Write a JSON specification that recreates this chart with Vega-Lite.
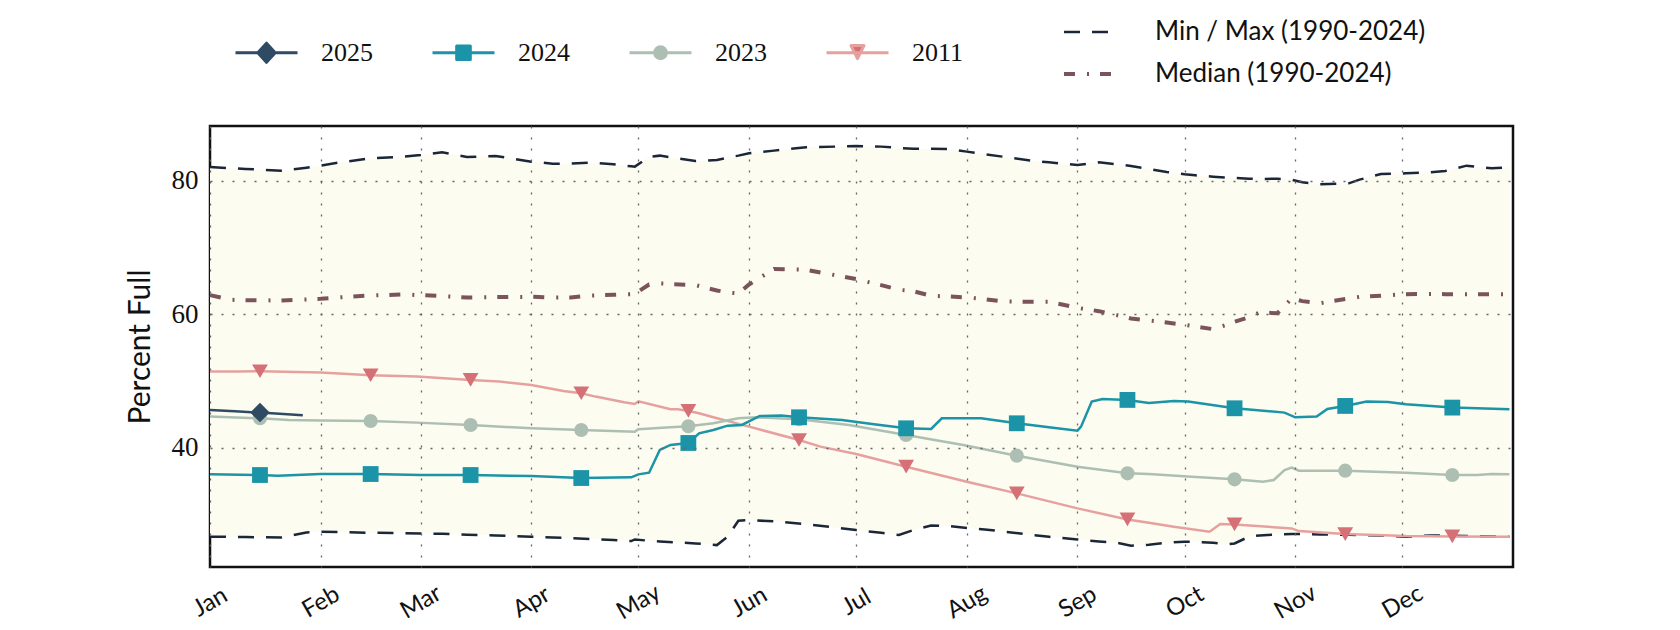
{
  "$schema": "https://vega.github.io/schema/vega-lite/v6.json",
  "width": 1303,
  "height": 441,
  "autosize": {"type": "none"},
  "padding": {"left": 210, "top": 126, "right": 167, "bottom": 63},
  "background": "white",
  "config": {
    "view": {"stroke": "#111111", "strokeWidth": 2.5},
    "font": "Lato"
  },
  "datasets": {
    "env": [
      {"date": "2023/01/01", "max": 82.1, "min": 26.7, "median": 62.9},
      {"date": "2023/01/07", "max": 81.9, "min": 26.68, "median": 62.2},
      {"date": "2023/01/11", "max": 81.8, "min": 26.65, "median": 62.15},
      {"date": "2023/01/21", "max": 81.55, "min": 26.6, "median": 62.1},
      {"date": "2023/01/28", "max": 82.0, "min": 27.35, "median": 62.25},
      {"date": "2023/02/01", "max": 82.3, "min": 27.45, "median": 62.35},
      {"date": "2023/02/06", "max": 82.75, "min": 27.4, "median": 62.55},
      {"date": "2023/02/15", "max": 83.4, "min": 27.3, "median": 62.85},
      {"date": "2023/02/24", "max": 83.65, "min": 27.25, "median": 63.0},
      {"date": "2023/03/01", "max": 83.9, "min": 27.2, "median": 62.9},
      {"date": "2023/03/07", "max": 84.3, "min": 27.15, "median": 62.75},
      {"date": "2023/03/14", "max": 83.6, "min": 27.0, "median": 62.55},
      {"date": "2023/03/22", "max": 83.75, "min": 26.9, "median": 62.6},
      {"date": "2023/04/01", "max": 82.9, "min": 26.7, "median": 62.65},
      {"date": "2023/04/07", "max": 82.6, "min": 26.6, "median": 62.55},
      {"date": "2023/04/12", "max": 82.6, "min": 26.5, "median": 62.55},
      {"date": "2023/04/18", "max": 82.75, "min": 26.35, "median": 62.85},
      {"date": "2023/04/24", "max": 82.5, "min": 26.2, "median": 62.95},
      {"date": "2023/04/29", "max": 82.2, "min": 26.05, "median": 63.05},
      {"date": "2023/04/30", "max": 82.15, "min": 26.3, "median": 63.1},
      {"date": "2023/05/04", "max": 83.6, "min": 26.1, "median": 64.5},
      {"date": "2023/05/07", "max": 83.8, "min": 26.0, "median": 64.65},
      {"date": "2023/05/17", "max": 83.0, "min": 25.7, "median": 64.4},
      {"date": "2023/05/23", "max": 83.15, "min": 25.45, "median": 63.6},
      {"date": "2023/05/26", "max": 83.5, "min": 26.7, "median": 63.3},
      {"date": "2023/05/29", "max": 83.8, "min": 29.1, "median": 63.15},
      {"date": "2023/06/01", "max": 84.15, "min": 29.2, "median": 64.5},
      {"date": "2023/06/08", "max": 84.55, "min": 29.0, "median": 66.8},
      {"date": "2023/06/17", "max": 85.05, "min": 28.6, "median": 66.7},
      {"date": "2023/06/25", "max": 85.15, "min": 28.1, "median": 65.9},
      {"date": "2023/07/01", "max": 85.25, "min": 27.7, "median": 65.3},
      {"date": "2023/07/08", "max": 85.15, "min": 27.3, "median": 64.4},
      {"date": "2023/07/13", "max": 84.95, "min": 26.96, "median": 63.7},
      {"date": "2023/07/17", "max": 84.85, "min": 27.7, "median": 63.5},
      {"date": "2023/07/22", "max": 84.85, "min": 28.4, "median": 62.8},
      {"date": "2023/07/27", "max": 84.8, "min": 28.3, "median": 62.7},
      {"date": "2023/08/01", "max": 84.4, "min": 28.0, "median": 62.55},
      {"date": "2023/08/06", "max": 84.0, "min": 27.8, "median": 62.3},
      {"date": "2023/08/11", "max": 83.65, "min": 27.5, "median": 61.95},
      {"date": "2023/08/19", "max": 83.05, "min": 27.0, "median": 61.9},
      {"date": "2023/08/24", "max": 82.8, "min": 26.7, "median": 61.9},
      {"date": "2023/09/01", "max": 82.4, "min": 26.3, "median": 61.0},
      {"date": "2023/09/07", "max": 82.8, "min": 26.0, "median": 60.5},
      {"date": "2023/09/12", "max": 82.5, "min": 25.8, "median": 59.9},
      {"date": "2023/09/16", "max": 82.25, "min": 25.35, "median": 59.4},
      {"date": "2023/09/21", "max": 81.8, "min": 25.5, "median": 59.1},
      {"date": "2023/09/26", "max": 81.35, "min": 25.8, "median": 58.8},
      {"date": "2023/10/01", "max": 81.0, "min": 25.96, "median": 58.45},
      {"date": "2023/10/04", "max": 80.85, "min": 25.95, "median": 58.2},
      {"date": "2023/10/09", "max": 80.65, "min": 25.8, "median": 57.8},
      {"date": "2023/10/13", "max": 80.5, "min": 25.6, "median": 58.5},
      {"date": "2023/10/15", "max": 80.45, "min": 25.7, "median": 58.9},
      {"date": "2023/10/19", "max": 80.35, "min": 26.7, "median": 59.6},
      {"date": "2023/10/22", "max": 80.3, "min": 26.9, "median": 60.3},
      {"date": "2023/10/27", "max": 80.35, "min": 27.05, "median": 60.2},
      {"date": "2023/10/31", "max": 80.2, "min": 27.1, "median": 62.4},
      {"date": "2023/11/03", "max": 79.8, "min": 27.1, "median": 62.0},
      {"date": "2023/11/08", "max": 79.5, "min": 27.05, "median": 61.7},
      {"date": "2023/11/16", "max": 79.65, "min": 27.0, "median": 62.4},
      {"date": "2023/11/19", "max": 80.2, "min": 26.96, "median": 62.65},
      {"date": "2023/11/25", "max": 81.05, "min": 26.9, "median": 62.8},
      {"date": "2023/12/02", "max": 81.15, "min": 26.71, "median": 63.05},
      {"date": "2023/12/09", "max": 81.3, "min": 26.9, "median": 63.07},
      {"date": "2023/12/13", "max": 81.5, "min": 26.9, "median": 63.05},
      {"date": "2023/12/19", "max": 82.3, "min": 26.8, "median": 63.05},
      {"date": "2023/12/26", "max": 81.9, "min": 26.75, "median": 63.03},
      {"date": "2023/12/31", "max": 82.05, "min": 26.7, "median": 63.02}
    ],
    "years": [
      {"series": "2011", "date": "2023/01/01", "value": 51.45},
      {"series": "2011", "date": "2023/01/09", "value": 51.45},
      {"series": "2011", "date": "2023/01/15", "value": 51.5},
      {"series": "2011", "date": "2023/02/01", "value": 51.3},
      {"series": "2011", "date": "2023/02/15", "value": 50.9},
      {"series": "2011", "date": "2023/02/28", "value": 50.7},
      {"series": "2011", "date": "2023/03/15", "value": 50.2},
      {"series": "2011", "date": "2023/03/23", "value": 49.95},
      {"series": "2011", "date": "2023/04/01", "value": 49.45},
      {"series": "2011", "date": "2023/04/10", "value": 48.55},
      {"series": "2011", "date": "2023/04/15", "value": 48.2},
      {"series": "2011", "date": "2023/04/19", "value": 47.7},
      {"series": "2011", "date": "2023/04/27", "value": 46.85},
      {"series": "2011", "date": "2023/04/30", "value": 46.6},
      {"series": "2011", "date": "2023/05/01", "value": 47.0},
      {"series": "2011", "date": "2023/05/10", "value": 45.8},
      {"series": "2011", "date": "2023/05/12", "value": 45.8},
      {"series": "2011", "date": "2023/05/15", "value": 45.55},
      {"series": "2011", "date": "2023/05/18", "value": 45.2},
      {"series": "2011", "date": "2023/05/22", "value": 44.6},
      {"series": "2011", "date": "2023/06/01", "value": 43.2},
      {"series": "2011", "date": "2023/06/15", "value": 41.2},
      {"series": "2011", "date": "2023/06/21", "value": 40.2},
      {"series": "2011", "date": "2023/07/01", "value": 39.1},
      {"series": "2011", "date": "2023/07/15", "value": 37.2},
      {"series": "2011", "date": "2023/08/01", "value": 34.95},
      {"series": "2011", "date": "2023/08/15", "value": 33.2},
      {"series": "2011", "date": "2023/09/01", "value": 30.95},
      {"series": "2011", "date": "2023/09/15", "value": 29.3},
      {"series": "2011", "date": "2023/09/21", "value": 28.8},
      {"series": "2011", "date": "2023/09/28", "value": 28.2},
      {"series": "2011", "date": "2023/10/08", "value": 27.45},
      {"series": "2011", "date": "2023/10/11", "value": 28.6},
      {"series": "2011", "date": "2023/10/15", "value": 28.55},
      {"series": "2011", "date": "2023/10/31", "value": 27.95},
      {"series": "2011", "date": "2023/11/02", "value": 27.55},
      {"series": "2011", "date": "2023/11/15", "value": 27.1},
      {"series": "2011", "date": "2023/12/02", "value": 26.8},
      {"series": "2011", "date": "2023/12/15", "value": 26.75},
      {"series": "2011", "date": "2023/12/31", "value": 26.7},
      {"series": "2023", "date": "2023/01/01", "value": 44.7},
      {"series": "2023", "date": "2023/01/15", "value": 44.45},
      {"series": "2023", "date": "2023/01/23", "value": 44.2},
      {"series": "2023", "date": "2023/02/01", "value": 44.1},
      {"series": "2023", "date": "2023/02/15", "value": 44.05},
      {"series": "2023", "date": "2023/02/28", "value": 43.8},
      {"series": "2023", "date": "2023/03/15", "value": 43.45},
      {"series": "2023", "date": "2023/04/01", "value": 42.95},
      {"series": "2023", "date": "2023/04/15", "value": 42.7},
      {"series": "2023", "date": "2023/04/30", "value": 42.45},
      {"series": "2023", "date": "2023/05/01", "value": 42.8},
      {"series": "2023", "date": "2023/05/10", "value": 43.1},
      {"series": "2023", "date": "2023/05/15", "value": 43.25},
      {"series": "2023", "date": "2023/05/22", "value": 43.7},
      {"series": "2023", "date": "2023/05/29", "value": 44.45},
      {"series": "2023", "date": "2023/06/03", "value": 44.6},
      {"series": "2023", "date": "2023/06/15", "value": 44.3},
      {"series": "2023", "date": "2023/06/29", "value": 43.45},
      {"series": "2023", "date": "2023/07/15", "value": 41.95},
      {"series": "2023", "date": "2023/07/31", "value": 40.45},
      {"series": "2023", "date": "2023/08/15", "value": 38.85},
      {"series": "2023", "date": "2023/09/01", "value": 37.2},
      {"series": "2023", "date": "2023/09/15", "value": 36.2},
      {"series": "2023", "date": "2023/09/21", "value": 36.1},
      {"series": "2023", "date": "2023/10/03", "value": 35.7},
      {"series": "2023", "date": "2023/10/15", "value": 35.3},
      {"series": "2023", "date": "2023/10/23", "value": 34.95},
      {"series": "2023", "date": "2023/10/26", "value": 35.2},
      {"series": "2023", "date": "2023/10/29", "value": 36.7},
      {"series": "2023", "date": "2023/10/31", "value": 37.05},
      {"series": "2023", "date": "2023/11/02", "value": 36.6},
      {"series": "2023", "date": "2023/11/15", "value": 36.6},
      {"series": "2023", "date": "2023/12/02", "value": 36.3},
      {"series": "2023", "date": "2023/12/15", "value": 35.95},
      {"series": "2023", "date": "2023/12/22", "value": 35.95},
      {"series": "2023", "date": "2023/12/26", "value": 36.1},
      {"series": "2023", "date": "2023/12/31", "value": 36.05},
      {"series": "2024", "date": "2023/01/01", "value": 36.05},
      {"series": "2024", "date": "2023/01/15", "value": 35.95},
      {"series": "2024", "date": "2023/01/20", "value": 35.85},
      {"series": "2024", "date": "2023/02/01", "value": 36.1},
      {"series": "2024", "date": "2023/02/15", "value": 36.1},
      {"series": "2024", "date": "2023/03/01", "value": 35.95},
      {"series": "2024", "date": "2023/03/15", "value": 35.95},
      {"series": "2024", "date": "2023/04/01", "value": 35.8},
      {"series": "2024", "date": "2023/04/15", "value": 35.5},
      {"series": "2024", "date": "2023/04/29", "value": 35.6},
      {"series": "2024", "date": "2023/05/01", "value": 36.05},
      {"series": "2024", "date": "2023/05/04", "value": 36.3},
      {"series": "2024", "date": "2023/05/07", "value": 39.7},
      {"series": "2024", "date": "2023/05/10", "value": 40.45},
      {"series": "2024", "date": "2023/05/15", "value": 40.75},
      {"series": "2024", "date": "2023/05/18", "value": 42.2},
      {"series": "2024", "date": "2023/05/22", "value": 42.7},
      {"series": "2024", "date": "2023/05/26", "value": 43.35},
      {"series": "2024", "date": "2023/05/30", "value": 43.45},
      {"series": "2024", "date": "2023/06/04", "value": 44.8},
      {"series": "2024", "date": "2023/06/10", "value": 44.85},
      {"series": "2024", "date": "2023/06/15", "value": 44.6},
      {"series": "2024", "date": "2023/06/27", "value": 44.2},
      {"series": "2024", "date": "2023/07/06", "value": 43.55},
      {"series": "2024", "date": "2023/07/15", "value": 42.95},
      {"series": "2024", "date": "2023/07/22", "value": 42.85},
      {"series": "2024", "date": "2023/07/25", "value": 44.45},
      {"series": "2024", "date": "2023/08/05", "value": 44.45},
      {"series": "2024", "date": "2023/08/15", "value": 43.7},
      {"series": "2024", "date": "2023/08/24", "value": 43.1},
      {"series": "2024", "date": "2023/09/01", "value": 42.6},
      {"series": "2024", "date": "2023/09/02", "value": 43.2},
      {"series": "2024", "date": "2023/09/05", "value": 46.95},
      {"series": "2024", "date": "2023/09/08", "value": 47.35},
      {"series": "2024", "date": "2023/09/15", "value": 47.2},
      {"series": "2024", "date": "2023/09/21", "value": 46.75},
      {"series": "2024", "date": "2023/09/28", "value": 47.05},
      {"series": "2024", "date": "2023/10/02", "value": 46.95},
      {"series": "2024", "date": "2023/10/15", "value": 45.95},
      {"series": "2024", "date": "2023/10/29", "value": 45.3},
      {"series": "2024", "date": "2023/11/01", "value": 44.6},
      {"series": "2024", "date": "2023/11/07", "value": 44.7},
      {"series": "2024", "date": "2023/11/10", "value": 45.85},
      {"series": "2024", "date": "2023/11/15", "value": 46.3},
      {"series": "2024", "date": "2023/11/21", "value": 46.95},
      {"series": "2024", "date": "2023/11/27", "value": 46.9},
      {"series": "2024", "date": "2023/12/02", "value": 46.55},
      {"series": "2024", "date": "2023/12/15", "value": 46.05},
      {"series": "2024", "date": "2023/12/31", "value": 45.8},
      {"series": "2025", "date": "2023/01/01", "value": 45.7},
      {"series": "2025", "date": "2023/01/08", "value": 45.5},
      {"series": "2025", "date": "2023/01/15", "value": 45.3},
      {"series": "2025", "date": "2023/01/27", "value": 44.9}
    ]
  },
  "encoding": {
    "x": {
      "field": "date",
      "type": "temporal",
      "scale": {"domain": [{"year": 2023, "month": 1, "date": 1}, {"year": 2024, "month": 1, "date": 1}]},
      "axis": {
        "title": null,
        "format": "%b",
        "values": [
          {"year": 2023, "month": 1, "date": 1}, {"year": 2023, "month": 2, "date": 1},
          {"year": 2023, "month": 3, "date": 1}, {"year": 2023, "month": 4, "date": 1},
          {"year": 2023, "month": 5, "date": 1}, {"year": 2023, "month": 6, "date": 1},
          {"year": 2023, "month": 7, "date": 1}, {"year": 2023, "month": 8, "date": 1},
          {"year": 2023, "month": 9, "date": 1}, {"year": 2023, "month": 10, "date": 1},
          {"year": 2023, "month": 11, "date": 1}, {"year": 2023, "month": 12, "date": 1}
        ],
        "grid": true,
        "gridColor": "#666666",
        "gridDash": [2, 9],
        "gridWidth": 1.3,
        "domain": false,
        "ticks": false,
        "labelAngle": -30,
        "labelAlign": "center",
        "labelBaseline": "middle",
        "labelPadding": 35,
        "labelFlush": false,
        "labelOverlap": false,
        "labelFont": "Lato",
        "labelFontSize": 24,
        "labelColor": "#111111",
        "zindex": 1
      }
    },
    "y": {
      "field": "value",
      "type": "quantitative",
      "title": "Percent Full",
      "scale": {"domain": [22.17, 88.24], "nice": false, "zero": false},
      "axis": {
        "values": [40, 60, 80],
        "grid": true,
        "gridColor": "#666666",
        "gridDash": [2, 9],
        "gridWidth": 1.3,
        "domain": false,
        "ticks": false,
        "labelFont": "Liberation Serif",
        "labelFontSize": 27,
        "labelColor": "#111111",
        "labelPadding": 12,
        "titleFont": "Lato",
        "titleFontSize": 30,
        "titleFontWeight": "normal",
        "titleColor": "#111111",
        "titlePadding": 16,
        "zindex": 1
      }
    }
  },
  "layer": [
    {
      "data": {"name": "env"},
      "mark": {"type": "area", "color": "#fcfcf0", "zindex": 0},
      "encoding": {
        "y": {
          "field": "max",
          "type": "quantitative",
          "title": "Percent Full",
          "scale": {"domain": [22.17, 88.24], "nice": false, "zero": false},
          "axis": {
            "values": [40, 60, 80],
            "grid": true,
            "gridColor": "#666666",
            "gridDash": [2, 9],
            "gridWidth": 1.3,
            "domain": false,
            "ticks": false,
            "labelFont": "Liberation Serif",
            "labelFontSize": 27,
            "labelColor": "#111111",
            "labelPadding": 12,
            "titleFont": "Lato",
            "titleFontSize": 30,
            "titleFontWeight": "normal",
            "titleColor": "#111111",
            "titlePadding": 16,
            "zindex": 1
          }
        },
        "y2": {"field": "min"}
      }
    },
    {
      "data": {"name": "env"},
      "transform": [{"fold": ["max", "min", "median"]}],
      "mark": {"type": "line", "zindex": 2},
      "encoding": {
        "color": {
          "field": "key",
          "type": "nominal",
          "scale": {"domain": ["max", "min", "median"], "range": ["#1b2738", "#1b2738", "#7b545b"]},
          "legend": {
            "orient": "none",
            "legendX": 865,
            "legendY": -107,
            "title": null,
            "values": ["max", "median"],
            "labelExpr": "datum.value === 'max' ? 'Min / Max (1990-2024)' : 'Median (1990-2024)'",
            "symbolSize": 576,
            "labelFont": "Lato",
            "labelFontSize": 26,
            "labelColor": "#111111",
            "labelOffset": 54,
            "labelLimit": 500,
            "rowPadding": 16,
            "encode": {
              "symbols": {
                "update": {
                  "shape": {"value": "M-2,0H2"},
                  "strokeDash": {"signal": "datum.value === 'max' ? [13, 22] : [11, 10, 2.5, 10]"},
                  "strokeWidth": {"signal": "datum.value === 'max' ? 2.5 : 4"},
                  "stroke": {"signal": "datum.value === 'max' ? '#1b2738' : '#7b545b'"},
                  "fill": {"value": "transparent"}
                }
              }
            }
          }
        },
        "strokeDash": {
          "field": "key",
          "type": "nominal",
          "scale": {"domain": ["max", "min", "median"], "range": [[16, 12], [16, 12], [11, 12, 2, 11]]},
          "legend": null
        },
        "strokeWidth": {"condition": {"test": "datum.key === 'median'", "value": 4}, "value": 2.5}
      }
    },
    {
      "data": {"name": "years"},
      "mark": {"type": "line", "strokeWidth": 2.5, "zindex": 2},
      "encoding": {
        "color": {
          "field": "series",
          "type": "nominal",
          "scale": {"domain": ["2025", "2024", "2023", "2011"], "range": ["#2e4b63", "#1a94a6", "#adbfb3", "#e6a19f"]},
          "legend": {
            "orient": "none",
            "legendX": 24,
            "legendY": -106,
            "direction": "horizontal",
            "title": null,
            "symbolSize": 3844,
            "labelFont": "Liberation Serif",
            "labelFontSize": 26,
            "labelColor": "#111111",
            "labelOffset": 22,
            "columnPadding": 58,
            "encode": {
              "symbols": {
                "update": {
                  "shape": {"signal": "datum.value === '2025' ? 'M-1,0H1M-0.28,0L0,-0.31L0.28,0L0,0.31Z' : datum.value === '2024' ? 'M-1,0H1M-0.22,-0.22H0.22V0.22H-0.22Z' : datum.value === '2023' ? 'M-1,0H1M-0.19,0A0.19,0.19,0,1,0,0.19,0A0.19,0.19,0,1,0,-0.19,0Z' : 'M-1,0H1M-0.21,-0.23H0.21L0,0.19Z'"},
                  "fill": {"signal": "datum.value === '2025' ? '#2e4b63' : datum.value === '2024' ? '#1a94a6' : datum.value === '2023' ? '#adbfb3' : '#d57176'"},
                  "stroke": {"signal": "datum.value === '2025' ? '#2e4b63' : datum.value === '2024' ? '#1a94a6' : datum.value === '2023' ? '#adbfb3' : '#d57176'"},
                  "strokeWidth": {"value": 3},
                  "strokeJoin": {"value": "round"},
                  "strokeDash": {"value": []}
                }
              }
            }
          }
        }
      }
    },
    {
      "data": {"name": "years"},
      "transform": [{"filter": "date(toDate(datum.date)) === 15"}],
      "mark": {"type": "point", "filled": true, "opacity": 1, "zindex": 3},
      "encoding": {
        "color": {
          "field": "series",
          "type": "nominal",
          "scale": {"domain": ["2025", "2024", "2023", "2011"], "range": ["#2e4b63", "#1a94a6", "#adbfb3", "#d57176"]},
          "legend": null
        },
        "shape": {
          "field": "series",
          "type": "nominal",
          "scale": {"domain": ["2025", "2024", "2023", "2011"], "range": ["diamond", "square", "circle", "triangle-down"]},
          "legend": null
        },
        "size": {
          "condition": [
            {"test": "datum.series === '2025'", "value": 380},
            {"test": "datum.series === '2023'", "value": 200}
          ],
          "value": 250
        }
      }
    }
  ],
  "resolve": {"scale": {"color": "independent", "strokeDash": "independent", "shape": "independent"}}
}
